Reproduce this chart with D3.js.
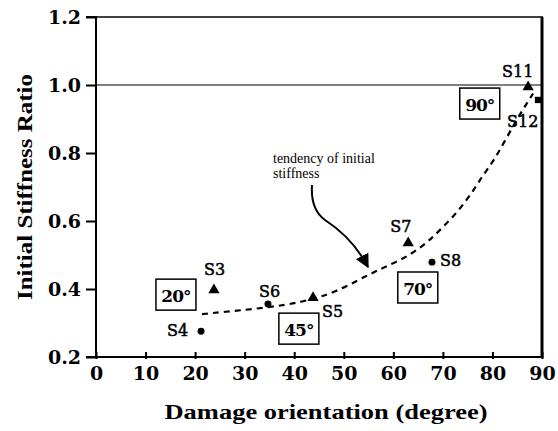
<!DOCTYPE html>
<html><head><meta charset="utf-8">
<script src="https://cdn.jsdelivr.net/npm/d3@7"></script>
<style>body{margin:0;background:#fff}svg{display:block}</style>
</head><body>
<svg id="c" width="558" height="431"></svg>
<script>
// ---- data ----
const xTicks = [0,10,20,30,40,50,60,70,80,90];
const yTicks = [0.2,0.4,0.6,0.8,1.0,1.2];
const pointNames = ["S3","S4","S6","S5","S7","S8","S11","S12"];
const pointX = [23.8,21.2,34.7,43.8,63.0,67.8,87.2,89.2];
const pointY = [0.397,0.276,0.356,0.374,0.535,0.479,0.994,0.956];
const pointShape = ["tri","circ","circ","tri","tri","circ","tri","sq"];
const trendX = [21.4,26,31.7,38.5,43,48,54.7,57.9,62.3,65.4,67.8,70,72.4,74.5,76.5,78.1,79.9,81.5,84,86,88.2];
const trendY = [0.326,0.333,0.341,0.353,0.368,0.388,0.44,0.462,0.491,0.521,0.55,0.582,0.618,0.656,0.697,0.735,0.77,0.809,0.875,0.925,0.975];
const boxLabels = ["20°","45°","70°","90°"];
const boxX = [12.1,36.9,60.9,73.4];   // left edge of box in data units
const boxY = [0.429,0.329,0.45,0.991]; // top edge of box in data units
const refLine = 1.0;

const svg = d3.select("#c");
const x = d3.scaleLinear().domain([0,90]).range([96,542]);
const y = d3.scaleLinear().domain([0.2,1.2]).range([357,17]);
const boldFont = "'DejaVu Serif', serif";
const serif = "'Liberation Serif','Times New Roman',serif";

// frame: top and right
svg.append("line").attr("x1",86).attr("x2",x(90)+1).attr("y1",y(1.2)).attr("y2",y(1.2))
  .attr("stroke","#000").attr("stroke-width",1.5);
svg.append("line").attr("x1",x(90)).attr("x2",x(90)).attr("y1",y(1.2)).attr("y2",y(0.2)+1)
  .attr("stroke","#000").attr("stroke-width",3);
// reference line at 1.0
svg.append("line").attr("x1",x(0)).attr("x2",x(90)).attr("y1",y(refLine)).attr("y2",y(refLine))
  .attr("stroke","#000").attr("stroke-width",1.2);

// axes
const yAxis = svg.append("g").attr("transform",`translate(${x(0)},0)`)
  .call(d3.axisLeft(y).tickValues(yTicks).tickFormat(d3.format(".1f")).tickSize(10).tickPadding(5));
const xAxis = svg.append("g").attr("transform",`translate(0,${y(0.2)})`)
  .call(d3.axisBottom(x).tickValues(xTicks).tickFormat(d3.format("d")).tickSize(-5).tickPadding(10));
[yAxis,xAxis].forEach(g=>{
  g.select(".domain").attr("stroke","#000").attr("stroke-width",2);
  g.selectAll(".tick line").attr("stroke","#000").attr("stroke-width",2);
  g.selectAll(".tick text").attr("fill","#000").attr("font-family",boldFont)
    .attr("font-weight","bold").attr("font-size",19);
});
yAxis.select(".domain").attr("d",`M-10,${y(1.2)}H0V${y(0.2)}`);
xAxis.select(".domain").attr("d",`M${x(0)-10},0H${x(90)}`);
xAxis.selectAll(".tick line").attr("y2",-5).attr("y1",2);

// axis titles
svg.append("text").attr("x",326).attr("y",419).attr("text-anchor","middle")
  .attr("font-family",serif).attr("font-weight","bold").attr("font-size",22)
  .attr("textLength",323).attr("lengthAdjust","spacingAndGlyphs")
  .text("Damage orientation (degree)");
svg.append("text").attr("transform","translate(32,187) rotate(-90)").attr("text-anchor","middle")
  .attr("font-family",serif).attr("font-weight","bold").attr("font-size",22)
  .attr("textLength",226).attr("lengthAdjust","spacingAndGlyphs")
  .text("Initial Stiffness Ratio");

// trend curve
const trend = trendX.map((v,i)=>[v,trendY[i]]);
svg.append("path").datum(trend)
  .attr("d",d3.line().x(d=>x(d[0])).y(d=>y(d[1])).curve(d3.curveBasis))
  .attr("fill","none").attr("stroke","#000").attr("stroke-width",2.2).attr("stroke-dasharray","6,5");

// angle boxes
const bw = 40, bh = 31;
const bg = svg.append("g").selectAll("g").data(boxLabels).join("g")
  .attr("transform",(d,i)=>`translate(${x(boxX[i])},${y(boxY[i])})`);
bg.append("rect").attr("width",bw).attr("height",bh).attr("fill","#fff")
  .attr("stroke","#000").attr("stroke-width",1.5);
bg.append("text").attr("x",bw/2).attr("y",bh/2+7).attr("text-anchor","middle")
  .attr("font-family",boldFont).attr("font-weight","bold").attr("font-size",17)
  .attr("letter-spacing",-1).text(d=>d);

// points
const pts = pointNames.map((n,i)=>({n,x:pointX[i],y:pointY[i],s:pointShape[i]}));
const sym = {tri:d3.symbolTriangle, circ:d3.symbolCircle, sq:d3.symbolSquare};
const size = {tri:55, circ:38, sq:40};
svg.append("g").selectAll("path").data(pts).join("path")
  .attr("transform",d=>`translate(${x(d.x)},${y(d.y)})`)
  .attr("d",d=>d3.symbol(sym[d.s],size[d.s])())
  .attr("fill","#000");

// point labels (offsets in px relative to marker)
const labelDx = [-10,-34,-9,9,-18,8,-26,-31];
const labelDy = [-15,5,-7,19,-11,4,-10,27];
svg.append("g").selectAll("text").data(pts).join("text")
  .attr("x",(d,i)=>x(d.x)+labelDx[i]).attr("y",(d,i)=>y(d.y)+labelDy[i])
  .attr("font-family",boldFont).attr("font-size",16).attr("fill","#000")
  .attr("stroke","#000").attr("stroke-width",0.5)
  .text(d=>d.n);

// annotation
const ann = svg.append("text").attr("font-family",serif).attr("font-size",14).attr("fill","#000");
ann.append("tspan").attr("x",273).attr("y",163).text("tendency of initial");
ann.append("tspan").attr("x",273).attr("y",178).text("stiffness");
svg.append("defs").append("marker").attr("id","ah").attr("viewBox","0 0 10 10")
  .attr("refX",9).attr("refY",5).attr("markerWidth",7).attr("markerHeight",7).attr("orient","auto")
  .append("path").attr("d","M0,0L10,5L0,10Z").attr("fill","#000");
svg.append("path").attr("d","M312,185 C311,200 314,212 325,220 C345,233 358,248 368,267")
  .attr("fill","none").attr("stroke","#000").attr("stroke-width",2).attr("marker-end","url(#ah)");
</script>
</body></html>
